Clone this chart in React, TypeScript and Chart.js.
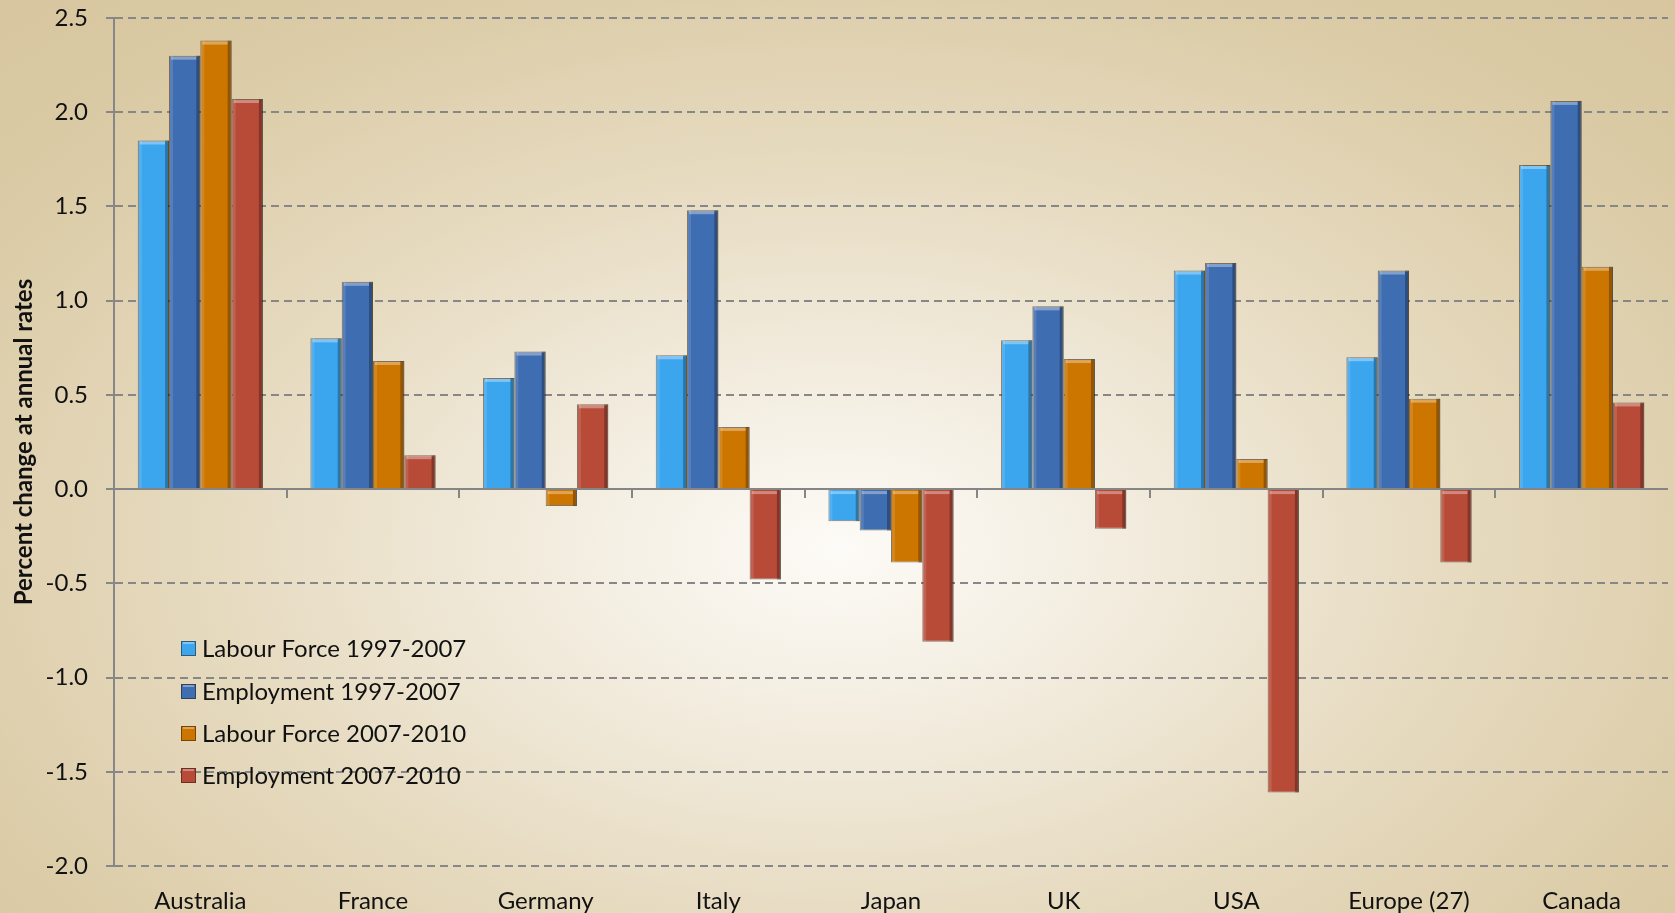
import React, { useEffect, useRef } from "react";
import { Chart, registerables } from "chart.js";

Chart.register(...registerables);

const categories = ["Australia", "France", "Germany", "Italy", "Japan", "UK", "USA", "Europe (27)", "Canada"];
const labourForce9707 = [1.85, 0.8, 0.59, 0.71, -0.17, 0.79, 1.16, 0.7, 1.72];
const employment9707 = [2.3, 1.1, 0.73, 1.48, -0.22, 0.97, 1.2, 1.16, 2.06];
const labourForce0710 = [2.38, 0.68, -0.09, 0.33, -0.39, 0.69, 0.16, 0.48, 1.18];
const employment0710 = [2.07, 0.18, 0.45, -0.48, -0.81, -0.21, -1.61, -0.39, 0.46];
const seriesLabels = ["Labour Force 1997-2007", "Employment 1997-2007", "Labour Force 2007-2010", "Employment 2007-2010"];
const seriesColors = ["#3BA5EE", "#3F6DB1", "#CC7600", "#B84A38"];
const yTitle = "Percent change at annual rates";

const FONT = "Lato, 'Open Sans', sans-serif";

const bevelPlugin = {
  id: "bevel",
  afterDatasetsDraw(chart: any) {
    const ctx = chart.ctx;
    ctx.save();
    chart.data.datasets.forEach((_ds: any, di: number) => {
      const meta = chart.getDatasetMeta(di);
      meta.data.forEach((el: any) => {
        const w = el.width;
        const left = el.x - w / 2;
        const top = Math.min(el.y, el.base);
        const h = Math.abs(el.y - el.base);
        if (h < 1) return;
        ctx.fillStyle = "rgba(0,0,0,0.28)";
        ctx.fillRect(left + w - 4, top, 4, h);
        ctx.fillStyle = "rgba(255,255,255,0.12)";
        ctx.fillRect(left + 1, top, 3, h);
        ctx.fillStyle = "rgba(255,255,255,0.35)";
        ctx.fillRect(left + 2, top + 1, w - 6, Math.min(3, h - 1));
      });
    });
    ctx.restore();
  },
};

const zeroTicksPlugin = {
  id: "zeroTicks",
  afterDatasetsDraw(chart: any) {
    const ctx = chart.ctx;
    const x = chart.scales.x;
    const y = chart.scales.y;
    const y0 = y.getPixelForValue(0);
    ctx.save();
    ctx.strokeStyle = "#858585";
    ctx.lineWidth = 2;
    ctx.beginPath();
    ctx.moveTo(chart.chartArea.left, y0);
    ctx.lineTo(chart.chartArea.right, y0);
    const n = categories.length;
    const step = (x.right - x.left) / n;
    for (let i = 1; i < n; i++) {
      const px = Math.round(x.left + step * i);
      ctx.moveTo(px, y0);
      ctx.lineTo(px, y0 + 9);
    }
    ctx.stroke();
    ctx.restore();
  },
};

const legendPlugin = {
  id: "innerLegend",
  afterDraw(chart: any) {
    const ctx = chart.ctx;
    ctx.save();
    ctx.font = `24px ${FONT}`;
    ctx.textBaseline = "middle";
    const x0 = 181;
    const ys = [648, 691, 733, 775];
    seriesLabels.forEach((lab, i) => {
      const yy = ys[i];
      ctx.fillStyle = seriesColors[i];
      ctx.fillRect(x0, yy - 7, 15, 15);
      ctx.strokeStyle = "rgba(40,30,20,0.55)";
      ctx.lineWidth = 1;
      ctx.strokeRect(x0 + 0.5, yy - 6.5, 14, 14);
      ctx.fillStyle = "rgba(255,255,255,0.35)";
      ctx.fillRect(x0 + 2, yy - 6, 11, 2);
      ctx.fillStyle = "#111";
      ctx.fillText(lab, x0 + 21, yy + 1);
    });
    ctx.restore();
  },
};

export default function App() {
  const ref = useRef<HTMLCanvasElement | null>(null);
  useEffect(() => {
    if (!ref.current) return;
    const values = [labourForce9707, employment9707, labourForce0710, employment0710];
    const chart = new Chart(ref.current, {
      type: "bar",
      data: {
        labels: categories,
        datasets: values.map((v, i) => ({
          label: seriesLabels[i],
          data: v,
          backgroundColor: seriesColors[i],
          borderColor: "rgba(50,35,20,0.6)",
          borderWidth: 1,
          barPercentage: 1,
          categoryPercentage: 0.725,
        })),
      },
      options: {
        animation: false,
        responsive: false,
        layout: { padding: { left: 0, right: 7, top: 18, bottom: 0 } },
        plugins: { legend: { display: false }, tooltip: { enabled: false } },
        scales: {
          x: {
            grid: { display: false, drawTicks: false },
            border: { display: false },
            ticks: { color: "#111", font: { family: FONT, size: 24 }, padding: 21, maxRotation: 0 },
            afterFit: (s: any) => {
              s.height = 47;
              s.paddingTop = 0;
              s.paddingBottom = 0;
            },
          },
          y: {
            min: -2,
            max: 2.5,
            ticks: {
              stepSize: 0.5,
              color: "#111",
              font: { family: FONT, size: 24 },
              padding: 18,
              callback: (v: any) => Number(v).toFixed(1),
            },
            grid: {
              color: "#878787",
              lineWidth: 2,
              tickLength: 8,
              tickBorderDash: [],
            },
            border: {
              display: true,
              color: "#878787",
              width: 2,
              dash: (c: any) => (c.tick && c.tick.value === 0 ? [] : [8, 5]),
            },
            title: {
              display: true,
              text: yTitle,
              color: "#111",
              font: { family: FONT, size: 24, weight: "bold" },
              padding: { top: 10, bottom: 0 },
            },
            afterFit: (s: any) => {
              s.width = 114;
              s.paddingTop = 0;
              s.paddingBottom = 0;
            },
          },
        },
      },
      plugins: [bevelPlugin, zeroTicksPlugin, legendPlugin],
    });
    return () => chart.destroy();
  }, []);
  return (
    <div
      style={{
        position: "fixed",
        left: 0,
        top: 0,
        width: 1675,
        height: 913,
        background:
          "radial-gradient(ellipse 75% 85% at 50% 60%, #fdfbf7 0%, #f3ede0 22%, #e6dabf 50%, #dbcba6 78%, #d6c59d 100%)",
      }}
    >
      <canvas ref={ref} width={1675} height={913} style={{ display: "block" }} />
    </div>
  );
}
